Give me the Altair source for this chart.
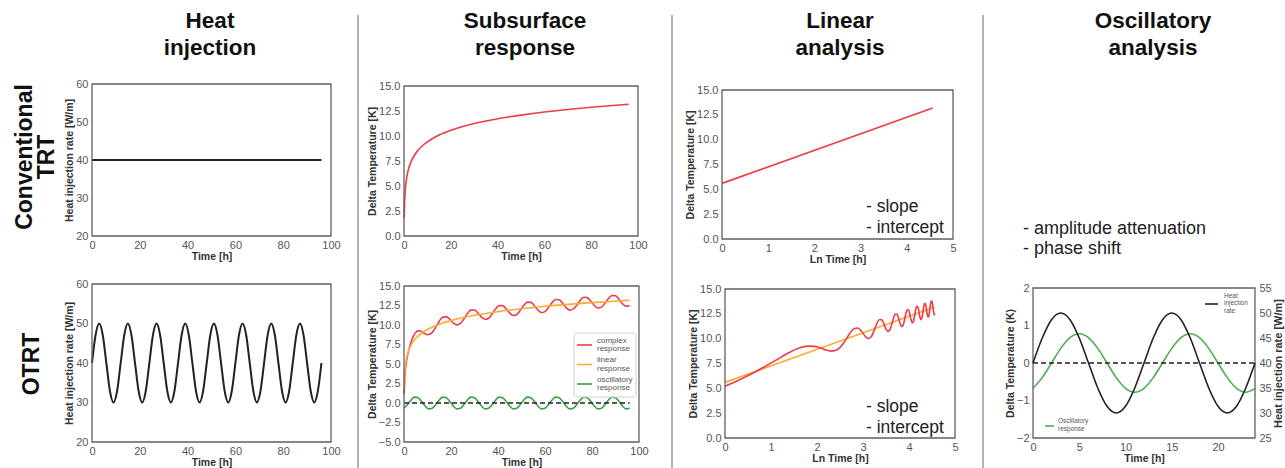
import altair as alt
import pandas as pd

W, H = 1285, 468
FONT = "Liberation Sans"

# ---------------- text content ----------------
col_titles = [["Heat", "injection"], ["Subsurface", "response"],
              ["Linear", "analysis"], ["Oscillatory", "analysis"]]
row_titles = [["Conventional", "TRT"], ["OTRT"]]
notes_linear = ["- slope", "- intercept"]
notes_osc = ["- amplitude attenuation", "- phase shift"]
series_names = [["complex", "response"], ["linear", "response"], ["oscillatory", "response"]]
p4_names = [["Heat", "injection", "rate"], ["Oscillatory", "response"]]

# ---------------- data ----------------
# conventional TRT: constant heat injection
conv_t = [0, 96]
conv_q = [40, 40]

# time grid (h) for oscillating series
grid_t = [0, 1.5, 3, 4.5, 6, 7.5, 9, 10.5, 12, 13.5, 15, 16.5, 18, 19.5, 21, 22.5,
          24, 25.5, 27, 28.5, 30, 31.5, 33, 34.5, 36, 37.5, 39, 40.5, 42, 43.5, 45, 46.5,
          48, 49.5, 51, 52.5, 54, 55.5, 57, 58.5, 60, 61.5, 63, 64.5, 66, 67.5, 69, 70.5,
          72, 73.5, 75, 76.5, 78, 79.5, 81, 82.5, 84, 85.5, 87, 88.5, 90, 91.5, 93, 94.5, 96]

# OTRT heat injection rate [W/m]
otrt_q = [40, 47.1, 50, 47.1, 40, 32.9, 30, 32.9, 40, 47.1, 50, 47.1, 40, 32.9, 30, 32.9,
          40, 47.1, 50, 47.1, 40, 32.9, 30, 32.9, 40, 47.1, 50, 47.1, 40, 32.9, 30, 32.9,
          40, 47.1, 50, 47.1, 40, 32.9, 30, 32.9, 40, 47.1, 50, 47.1, 40, 32.9, 30, 32.9,
          40, 47.1, 50, 47.1, 40, 32.9, 30, 32.9, 40, 47.1, 50, 47.1, 40, 32.9, 30, 32.9, 40]

# oscillatory response [K] on grid_t
osc_v = [-0.68, -0.20, 0.39, 0.75, 0.68, 0.20, -0.39, -0.75, -0.68, -0.20, 0.39, 0.75, 0.68, 0.20, -0.39, -0.75,
         -0.68, -0.20, 0.39, 0.75, 0.68, 0.20, -0.39, -0.75, -0.68, -0.20, 0.39, 0.75, 0.68, 0.20, -0.39, -0.75,
         -0.68, -0.20, 0.39, 0.75, 0.68, 0.20, -0.39, -0.75, -0.68, -0.20, 0.39, 0.75, 0.68, 0.20, -0.39, -0.75,
         -0.68, -0.20, 0.39, 0.75, 0.68, 0.20, -0.39, -0.75, -0.68, -0.20, 0.39, 0.75, 0.68, 0.20, -0.39, -0.75, -0.68]

# linear (conventional) response [K]
lin_t = [0.1, 0.25, 0.5, 1, 1.5, 2, 3, 4, 6, 8, 10, 15, 20, 30, 40, 50, 60, 70, 80, 96]
lin_v = [1.78, 3.30, 4.45, 5.60, 6.27, 6.75, 7.42, 7.90, 8.57, 9.05, 9.42, 10.10, 10.57,
         11.25, 11.72, 12.09, 12.40, 12.65, 12.87, 13.18]

# complex (OTRT) response [K]
cx_t = [0.1, 0.25, 0.5, 1, 1.5, 2, 3, 4, 5, 6, 7, 8, 9, 10, 11, 12,
        13.5, 15, 16.5, 18, 19.5, 21, 22.5, 24, 25.5, 27, 28.5, 30, 31.5, 33, 34.5, 36,
        37.5, 39, 40.5, 42, 43.5, 45, 46.5, 48, 49.5, 51, 52.5, 54, 55.5, 57, 58.5, 60,
        61.5, 63, 64.5, 66, 67.5, 69, 70.5, 72, 73.5, 75, 76.5, 78, 79.5, 81, 82.5, 84,
        85.5, 87, 88.5, 90, 91.5, 93, 94.5, 96]
cx_v = [1.13, 2.68, 3.90, 5.21, 6.07, 6.75, 7.81, 8.58, 9.05, 9.25, 9.22, 9.05, 8.86, 8.75, 8.80, 9.05,
        9.72, 10.49, 11.00, 11.07, 10.73, 10.26, 10.02, 10.20, 10.78, 11.46, 11.91, 11.92, 11.53, 11.01, 10.73, 10.87,
        11.42, 12.07, 12.49, 12.49, 12.06, 11.53, 11.22, 11.35, 11.88, 12.52, 12.93, 12.90, 12.47, 11.92, 11.60, 11.72,
        12.24, 12.87, 13.27, 13.23, 12.79, 12.24, 11.91, 12.03, 12.53, 13.16, 13.55, 13.51, 13.06, 12.50, 12.18, 12.29,
        12.79, 13.40, 13.79, 13.75, 13.30, 12.73, 12.40, 12.51]

zero_t = [0, 96]
zero_v = [0, 0]

# linear analysis: fitted straight line vs ln(t)
fit_lnt = [0, 4.56]
fit_v = [5.6, 13.2]

# oscillatory analysis (one day)
p4_t = [0, 1, 2, 3, 4, 5, 6, 7, 8, 9, 10, 11, 12, 13, 14, 15, 16, 17, 18, 19, 20, 21, 22, 23, 24]
p4_q = [40, 45, 48.66, 50, 48.66, 45, 40, 35, 31.34, 30, 31.34, 35, 40, 45, 48.66, 50, 48.66, 45,
        40, 35, 31.34, 30, 31.34, 35, 40]
p4_osc = [-0.675, -0.39, 0, 0.39, 0.675, 0.78, 0.675, 0.39, 0, -0.39, -0.675, -0.78, -0.675, -0.39,
          0, 0.39, 0.675, 0.78, 0.675, 0.39, 0, -0.39, -0.675, -0.78, -0.675]
p4_zero_t = [0, 24]
p4_zero_v = [0, 0]

# ticks
t_ticks = [0, 20, 40, 60, 80, 100]
q_ticks = [20, 30, 40, 50, 60]
dt_ticks = [0, 2.5, 5, 7.5, 10, 12.5, 15]
dt_ticks_b = [-5, -2.5, 0, 2.5, 5, 7.5, 10, 12.5, 15]
ln_ticks = [0, 1, 2, 3, 4, 5]
p4_t_ticks = [0, 5, 10, 15, 20]
p4_dt_ticks = [-2, -1, 0, 1, 2]
p4_q_ticks = [25, 30, 35, 40, 45, 50, 55]

# ---------------- styling / layout ----------------
RED = "#ee3b46"
ORANGE = "#ffab33"
GREEN = "#3d9e44"
GREEN2 = "#4caf50"
BLACK = "#222222"
FRAME = "#606060"
LEGTXT = "#555555"

# panel boxes: (left, right, top, bottom) in pixels
B1T = (92, 331, 84, 236)
B1B = (92, 331, 284, 442)
B2T = (404, 638, 86, 236)
B2B = (404, 639, 286, 442)
B3T = (722, 953, 90, 239)
B3B = (725, 955, 289, 438)
B4B = (1033, 1255, 288, 438)


def sx(dom, b):
    return alt.Scale(domain=dom, range=[b[0], b[1]], nice=False, zero=False)


def sy(dom, b):
    return alt.Scale(domain=dom, range=[b[3], b[2]], nice=False, zero=False)


def ax_b(b, vals, title, fmt):
    return alt.Axis(orient="bottom", offset=b[3] - H, values=vals, title=title, format=fmt,
                    labelFlush=False, labelOverlap=False)


def ax_l(b, vals, title, fmt):
    return alt.Axis(orient="left", offset=-b[0], values=vals, title=title, format=fmt,
                    labelFlush=False, labelOverlap=False, labelPadding=4)


def ax_r(b, vals, title, fmt):
    return alt.Axis(orient="right", offset=b[1] - W, values=vals, title=title, format=fmt,
                    labelFlush=False, labelOverlap=False, labelPadding=4,
                    titleAngle=270, titleBaseline="top", titleFontSize=11)


def frame(b, xd, yd, xa, ya):
    df = pd.DataFrame({"x0": [xd[0]], "x1": [xd[1]], "y0": [yd[0]], "y1": [yd[1]]})
    return alt.Chart(df).mark_rect(fillOpacity=0, stroke=FRAME, strokeWidth=1.3).encode(
        x=alt.X("x0:Q", scale=sx(xd, b), axis=xa), x2="x1:Q",
        y=alt.Y("y0:Q", scale=sy(yd, b), axis=ya), y2="y1:Q")


def line(df, xf, yf, b, xd, yd, color, xa, ya, width=1.6, dash=None, interp="monotone"):
    kw = dict(color=color, strokeWidth=width, interpolate=interp)
    if dash:
        kw["strokeDash"] = dash
    return alt.Chart(df).mark_line(**kw).encode(
        x=alt.X(xf, scale=sx(xd, b), axis=xa),
        y=alt.Y(yf, scale=sy(yd, b), axis=ya))


def text(lines, x, y, size, weight="normal", angle=0, align="center", baseline="alphabetic",
         lh=None, color="#111111"):
    kw = dict(fontSize=size, fontWeight=weight, font=FONT, align=align, baseline=baseline, color=color)
    if lh:
        kw["lineHeight"] = lh
    if angle:
        kw["angle"] = angle
    return alt.Chart().mark_text(**kw).encode(x=alt.value(x), y=alt.value(y), text=alt.value(lines))


def sep(x):
    return alt.Chart().mark_rule(color="#9a9a9a", strokeWidth=1.5).encode(
        x=alt.value(x), y=alt.value(15), y2=alt.value(H))


def leg_entry(lines, color, x0, x1, ys, tx, ty, fs, lh):
    sym = alt.Chart().mark_rule(color=color, strokeWidth=1.6).encode(
        x=alt.value(x0), x2=alt.value(x1), y=alt.value(ys))
    return [sym, text(lines, tx, ty, fs, align="left", lh=lh, color=LEGTXT)]


TX = [0, 100]

# ---- panel 1 top ----
df1t = pd.DataFrame({"t": conv_t, "q": conv_q})
xa, ya = ax_b(B1T, t_ticks, "Time [h]", "d"), ax_l(B1T, q_ticks, "Heat injection rate [W/m]", "d")
p1t = alt.layer(
    line(df1t, "t:Q", "q:Q", B1T, TX, [20, 60], BLACK, xa, ya, width=1.8),
    frame(B1T, TX, [20, 60], xa, ya))

# ---- panel 1 bottom ----
df1b = pd.DataFrame({"t": grid_t, "q": otrt_q})
xa, ya = ax_b(B1B, t_ticks, "Time [h]", "d"), ax_l(B1B, q_ticks, "Heat injection rate [W/m]", "d")
p1b = alt.layer(
    line(df1b, "t:Q", "q:Q", B1B, TX, [20, 60], BLACK, xa, ya, width=2),
    frame(B1B, TX, [20, 60], xa, ya))

# ---- panel 2 top ----
df_lin = pd.DataFrame({"t": lin_t, "v": lin_v})
xa, ya = ax_b(B2T, t_ticks, "Time [h]", "d"), ax_l(B2T, dt_ticks, "Delta Temperature [K]", ".1f")
p2t = alt.layer(
    line(df_lin, "t:Q", "v:Q", B2T, TX, [0, 15], RED, xa, ya),
    frame(B2T, TX, [0, 15], xa, ya))

# ---- panel 2 bottom ----
df_cx = pd.DataFrame({"t": cx_t, "v": cx_v})
df_osc = pd.DataFrame({"t": grid_t, "v": osc_v})
df_zero = pd.DataFrame({"t": zero_t, "v": zero_v})
xa, ya = ax_b(B2B, t_ticks, "Time [h]", "d"), ax_l(B2B, dt_ticks_b, "Delta Temperature [K]", ".1f")
YB = [-5, 15]
p2b = alt.layer(
    line(df_cx, "t:Q", "v:Q", B2B, TX, YB, RED, xa, ya),
    line(df_lin, "t:Q", "v:Q", B2B, TX, YB, ORANGE, xa, ya),
    line(df_osc, "t:Q", "v:Q", B2B, TX, YB, GREEN, xa, ya),
    line(df_zero, "t:Q", "v:Q", B2B, TX, YB, BLACK, xa, ya, width=1.5, dash=[5, 3], interp="linear"),
    frame(B2B, TX, YB, xa, ya))

# ---- panel 3 top ----
df_fit = pd.DataFrame({"x": fit_lnt, "v": fit_v})
xa, ya = ax_b(B3T, ln_ticks, "Ln Time [h]", "d"), ax_l(B3T, dt_ticks, "Delta Temperature [K]", ".1f")
p3t = alt.layer(
    line(df_fit, "x:Q", "v:Q", B3T, [0, 5], [0, 15], RED, xa, ya, interp="linear"),
    frame(B3T, [0, 5], [0, 15], xa, ya))

# ---- panel 3 bottom ----
xa, ya = ax_b(B3B, ln_ticks, "Ln Time [h]", "d"), ax_l(B3B, dt_ticks, "Delta Temperature [K]", ".1f")
p3b_red = alt.Chart(df_cx).transform_filter("datum.t >= 1").transform_calculate(
    lnt="log(datum.t)").mark_line(color=RED, strokeWidth=1.6, interpolate="monotone").encode(
    x=alt.X("lnt:Q", scale=sx([0, 5], B3B), axis=xa),
    y=alt.Y("v:Q", scale=sy([0, 15], B3B), axis=ya))
p3b = alt.layer(
    line(df_fit, "x:Q", "v:Q", B3B, [0, 5], [0, 15], ORANGE, xa, ya, interp="linear"),
    p3b_red,
    frame(B3B, [0, 5], [0, 15], xa, ya))

# ---- panel 4 bottom ----
P4X = [0, 24]
df4q = pd.DataFrame({"t": p4_t, "q": p4_q})
df4o = pd.DataFrame({"t": p4_t, "o": p4_osc})
df4z = pd.DataFrame({"t": p4_zero_t, "v": p4_zero_v})
xa = ax_b(B4B, p4_t_ticks, "Time [h]", "d")
ya = ax_l(B4B, p4_dt_ticks, "Delta Temperature (K)", "d")
yr = ax_r(B4B, p4_q_ticks, "Heat injection rate [W/m]", "d")
p4 = alt.layer(
    alt.layer(
        line(df4o, "t:Q", "o:Q", B4B, P4X, [-2, 2], GREEN2, xa, ya),
        line(df4z, "t:Q", "v:Q", B4B, P4X, [-2, 2], BLACK, xa, ya, width=1.5, dash=[5, 3], interp="linear"),
        frame(B4B, P4X, [-2, 2], xa, ya)),
    line(df4q, "t:Q", "q:Q", B4B, P4X, [25, 55], BLACK, xa, yr),
).resolve_scale(y="independent").resolve_axis(y="independent")

# ---- legends (drawn as guide marks) ----
legends = [
    alt.Chart().mark_rect(fill="white", stroke="#d0d0d0", strokeWidth=1, cornerRadius=3).encode(
        x=alt.value(574), x2=alt.value(636), y=alt.value(333), y2=alt.value(397)),
]
for i, (nm, col) in enumerate(zip(series_names, [RED, ORANGE, GREEN])):
    ys = 345 + 19.5 * i
    legends += leg_entry(nm, col, 577, 592, ys, 597, ys - 2.5, 8, 8.7)
legends += leg_entry(p4_names[0], BLACK, 1205, 1218, 304, 1224, 297.5, 6.5, 7.9)
legends += leg_entry(p4_names[1], GREEN2, 1045, 1054, 426, 1058, 423, 6.5, 8)

# ---- decorations ----
deco = [
    text(col_titles[0], 210, 28, 22.5, "bold", lh=27),
    text(col_titles[1], 525, 28, 22.5, "bold", lh=27),
    text(col_titles[2], 840, 28, 22.5, "bold", lh=27),
    text(col_titles[3], 1153, 28, 22.5, "bold", lh=27),
    text(row_titles[0], 25, 157, 23, "bold", angle=270, baseline="middle", lh=22),
    text(row_titles[1], 32, 364, 23, "bold", angle=270, baseline="middle", lh=22),
    text(notes_linear, 866, 212, 17.5, align="left", lh=21, color="#222222"),
    text(notes_linear, 866, 412, 17.5, align="left", lh=21, color="#222222"),
    text(notes_osc, 1023, 234, 18, align="left", lh=20, color="#222222"),
    sep(358), sep(672), sep(983),
]

chart = alt.layer(p1t, p1b, p2t, p2b, p3t, p3b, p4, *legends, *deco).resolve_scale(
    x="independent", y="independent").resolve_axis(
    x="independent", y="independent").properties(
    width=W, height=H, padding=0, autosize="none", background="white").configure_axis(
    labelFont=FONT, labelFontSize=11, labelColor="#555555", titleFont=FONT, titleFontSize=10.5,
    titleFontWeight="bold", titleColor="#333333", ticks=False, grid=False, domain=False,
    labelPadding=3, titlePadding=1).configure_view(strokeWidth=0)

chart.save("out.html", embed_options={"renderer": "svg", "actions": False})
